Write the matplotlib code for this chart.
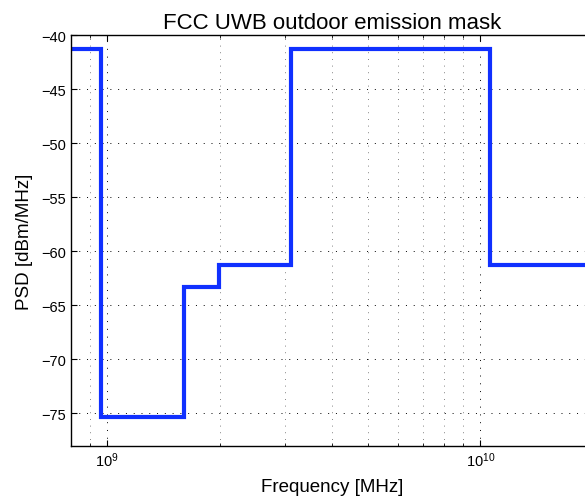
import numpy as np
import matplotlib
matplotlib.use("Agg")
import matplotlib.pyplot as plt
from matplotlib.ticker import FixedLocator, NullFormatter

plt.rcParams['font.family'] = ['Liberation Sans', 'DejaVu Sans']

## FCC UWB outdoor mask : band edges [Hz] and PSD limit [dBm/MHz]
band_edges = [8e8, 0.96e9, 1.61e9, 1.99e9, 3.1e9, 10.6e9, 2e10]
psd_limits = [-41.3, -75.3, -63.3, -61.3, -41.3, -61.3]
y_ticks = [-75, -70, -65, -60, -55, -50, -45, -40]
x_minor = [8e8, 9e8, 2e9, 3e9, 4e9, 5e9, 6e9, 7e9, 8e9, 9e9]

fig = plt.figure(figsize=(5.85, 5.02), dpi=100)
ax = fig.add_axes([0.1214, 0.110, 0.892, 0.818])

## Courbe en escalier
f = np.repeat(band_edges, 2)[1:-1]
p = np.repeat(psd_limits, 2)
ax.plot(f, p, color='#1030ff', lw=3.0, solid_joinstyle='miter')

ax.set_xscale('log')
ax.set_xlim(8e8, 2e10)
ax.set_ylim(-78, -40)
ax.set_yticks(y_ticks)
ax.set_yticklabels(['\u2212%d' % abs(v) for v in y_ticks])
ax.xaxis.set_minor_locator(FixedLocator(x_minor))
ax.xaxis.set_minor_formatter(NullFormatter())

## Grille pointillee style MATLAB
ax.grid(True, which='major', axis='both', color='k', ls=(0, (1, 7)), lw=0.7)
ax.grid(True, which='minor', axis='x', color='0.35', ls=(0, (1, 7)), lw=0.6)

ax.tick_params(which='both', direction='in', top=True, right=False, labelsize=10.5)
ax.tick_params(which='major', length=4, width=0.8)
ax.tick_params(which='minor', length=2, width=0.6)
for s in ax.spines.values():
    s.set_linewidth(1.0)
ax.spines['right'].set_visible(False)

ax.set_title('FCC UWB outdoor emission mask', fontsize=16, pad=5)
ax.set_xlabel('Frequency [MHz]', fontsize=13.5, labelpad=6)
ax.set_ylabel('PSD [dBm/MHz]', fontsize=13.5, labelpad=6)

fig.savefig('out.png', dpi=100)
